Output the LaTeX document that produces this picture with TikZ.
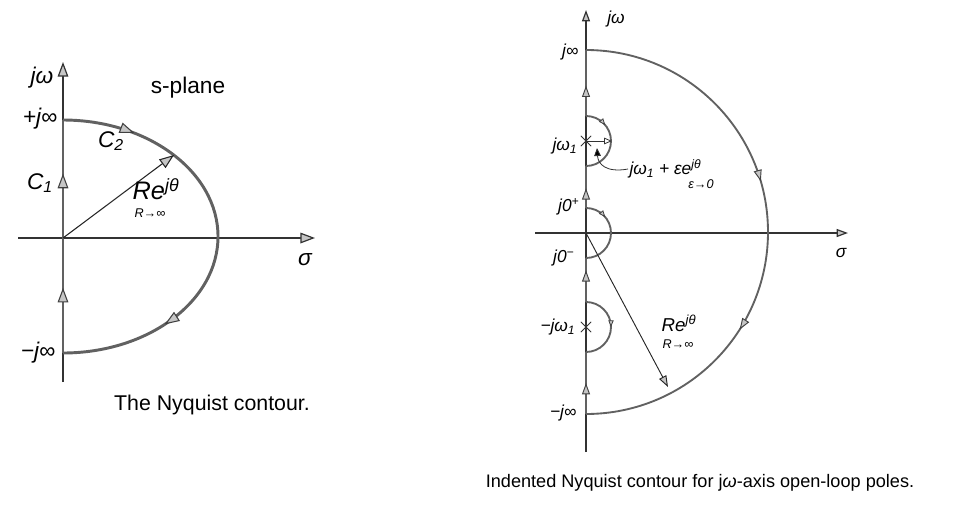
\documentclass[tikz,border=0pt]{standalone}
\usepackage{fontspec}
\setmainfont{Liberation Sans}
\usetikzlibrary{arrows.meta,decorations.markings,shapes.misc}

\tikzset{
  ctip/.tip={Triangle[length=11pt,width=8pt,fill=gray!45]},
  rtip/.tip={Triangle[length=8.5pt,width=6pt,fill=gray!45]},
  stip/.tip={Triangle[length=5pt,width=4pt,fill=gray!45]},
  axisline/.style={draw=black!80,line width=0.9pt,-ctip},
  axisr/.style={draw=black!80,line width=0.9pt,-rtip},
  contour/.style={draw=black!62,line width=2.2pt},
  contourr/.style={draw=black!62,line width=1.4pt},
  midarrow/.style={postaction={decorate,decoration={markings,
      mark=at position #1 with {\arrow[line width=0.8pt,draw=black!75]{ctip}}}}},
  midarrowr/.style={postaction={decorate,decoration={markings,
      mark=at position #1 with {\arrow[line width=0.7pt,draw=black!75]{rtip}}}}},
  backarrow/.style={postaction={decorate,decoration={markings,
      mark=at position #1 with {\arrowreversed[line width=0.6pt,draw=black!75]{stip}}}}},
  radiusline/.style={draw=black!85,line width=0.8pt,-ctip},
  lbl/.style={font=\fontsize{17}{20}\selectfont\itshape,inner sep=1pt},
  lblr/.style={font=\fontsize{13}{15}\selectfont\itshape,inner sep=1pt},
  tiny/.style={font=\fontsize{9.5}{11}\selectfont\itshape,inner sep=1pt},
  captext/.style={font=\fontsize{16}{19}\selectfont,inner sep=1pt},
  pole/.style={cross out,draw=black!80,line width=0.7pt,minimum size=7pt,inner sep=0pt}
}

\begin{document}
\begin{tikzpicture}[x=0.75pt,y=-0.75pt]
\useasboundingbox (0,0) rectangle (975,508);

% the Nyquist contour
\coordinate (O1) at (63,238);
\draw[axisline] (63,382) -- (63,62) coordinate (jw1);
\draw[axisline] (18,238) -- (315,238) coordinate (sg1);
\draw[contour,midarrow=0.28,midarrow=0.77] (63,353) coordinate (mjinf) -- (63,120) coordinate (pjinf);
\draw[contour,midarrow=0.17,midarrow=0.75] (pjinf)
  arc[start angle=-90,end angle=90,x radius=155,y radius=116.5] coordinate (bot1);
\draw[radiusline] (O1) -- (174,155) coordinate (rtip1);

\node[lbl] (jwlbl) at (42,78) {jω};
\node[captext,font=\fontsize{17}{20}\selectfont] (splane) at (188,88) {s-plane};
\node[lbl,anchor=east] (pinf) at (59,119) {+j∞};
\node[lbl,anchor=east] (minf) at (57,353) {−j∞};
\node[lbl] (c2) at (111,141) {C\textsubscript{2}};
\node[lbl] (c1) at (40,183) {C\textsubscript{1}};
\node[lbl,font=\fontsize{19}{22}\selectfont\itshape] (re1) at (156,189) {Re\textsuperscript{jθ}};
\node[tiny] (rinf1) at (150,213) {R→∞};
\node[lbl] (sig1) at (305,260) {σ};
\node[captext] (cap1) at (212,405) {The Nyquist contour.};

% indented contour
\coordinate (O2) at (586,233);
\draw[axisr] (586,452) -- (586,10) coordinate (jw2);
\draw[axisr] (535,233) -- (848,233) coordinate (sg2);
\draw[contourr,midarrowr=0.5] (586,414) coordinate (mjinf2) -- (586,352);
\draw[contourr,backarrow=0.5] (586,352) arc[start angle=90,end angle=-90,radius=25];
\draw[contourr,midarrowr=0.72] (586,302) -- (586,258) coordinate (jzm);
\draw[contourr,backarrow=0.72] (jzm) arc[start angle=90,end angle=-90,radius=25] coordinate (jzp);
\draw[contourr,midarrowr=0.47] (jzp) -- (586,166);
\draw[contourr,backarrow=0.72] (586,166) arc[start angle=90,end angle=-90,radius=25];
\draw[contourr,midarrowr=0.46] (586,116) -- (586,50) coordinate (pjinf2);
\draw[contourr,midarrowr=0.41,midarrowr=0.68] (pjinf2)
  arc[start angle=-90,end angle=90,radius=182];
\draw[draw=black!85,line width=0.7pt,-rtip] (O2) -- (668,387) coordinate (rtip2);

\node[pole] (p1) at (586,141) {};
\node[pole] (p2) at (586,327) {};
\draw[draw=black!80,line width=0.6pt,-{Triangle[length=6pt,width=5pt,fill=white]}] (p1.center) -- (612,141);

\node[lblr] (jwlbl2) at (616,19) {jω};
\node[lblr,anchor=east] (pinf2) at (580,52) {j∞};
\node[lblr,anchor=east] (jw1lbl) at (579,146) {jω\textsubscript{1}};
\node[lblr,anchor=east] (jzplbl) at (581,207) {j0\textsuperscript{+}};
\node[lblr,anchor=east] (jzmlbl) at (576,258) {j0\textsuperscript{−}};
\node[lblr,anchor=east] (mjw1lbl) at (577,327) {−jω\textsubscript{1}};
\node[lblr,anchor=east] (minf2) at (578,413) {−j∞};
\node[lblr] (sig2) at (841,253) {σ};
\node[lblr,anchor=west] (eps) at (628,169) {jω\textsubscript{1} + εe\textsuperscript{jθ}};
\node[tiny] (eps0) at (701,184) {ε→0};
\draw[black!80,line width=0.6pt,-{Triangle[length=6pt,width=5pt,fill=black]}]
  (eps.west) .. controls (606,173) and (598,164) .. (597,148);
\node[lblr,font=\fontsize{14}{16}\selectfont\itshape] (re2) at (679,323) {Re\textsuperscript{jθ}};
\node[tiny] (rinf2) at (678,344) {R→∞};
\node[font=\fontsize{13.6}{16}\selectfont,inner sep=1pt] (cap2) at (700,483)
  {Indented Nyquist contour for j\textit{ω}-axis open-loop poles.};
\end{tikzpicture}
\end{document}
